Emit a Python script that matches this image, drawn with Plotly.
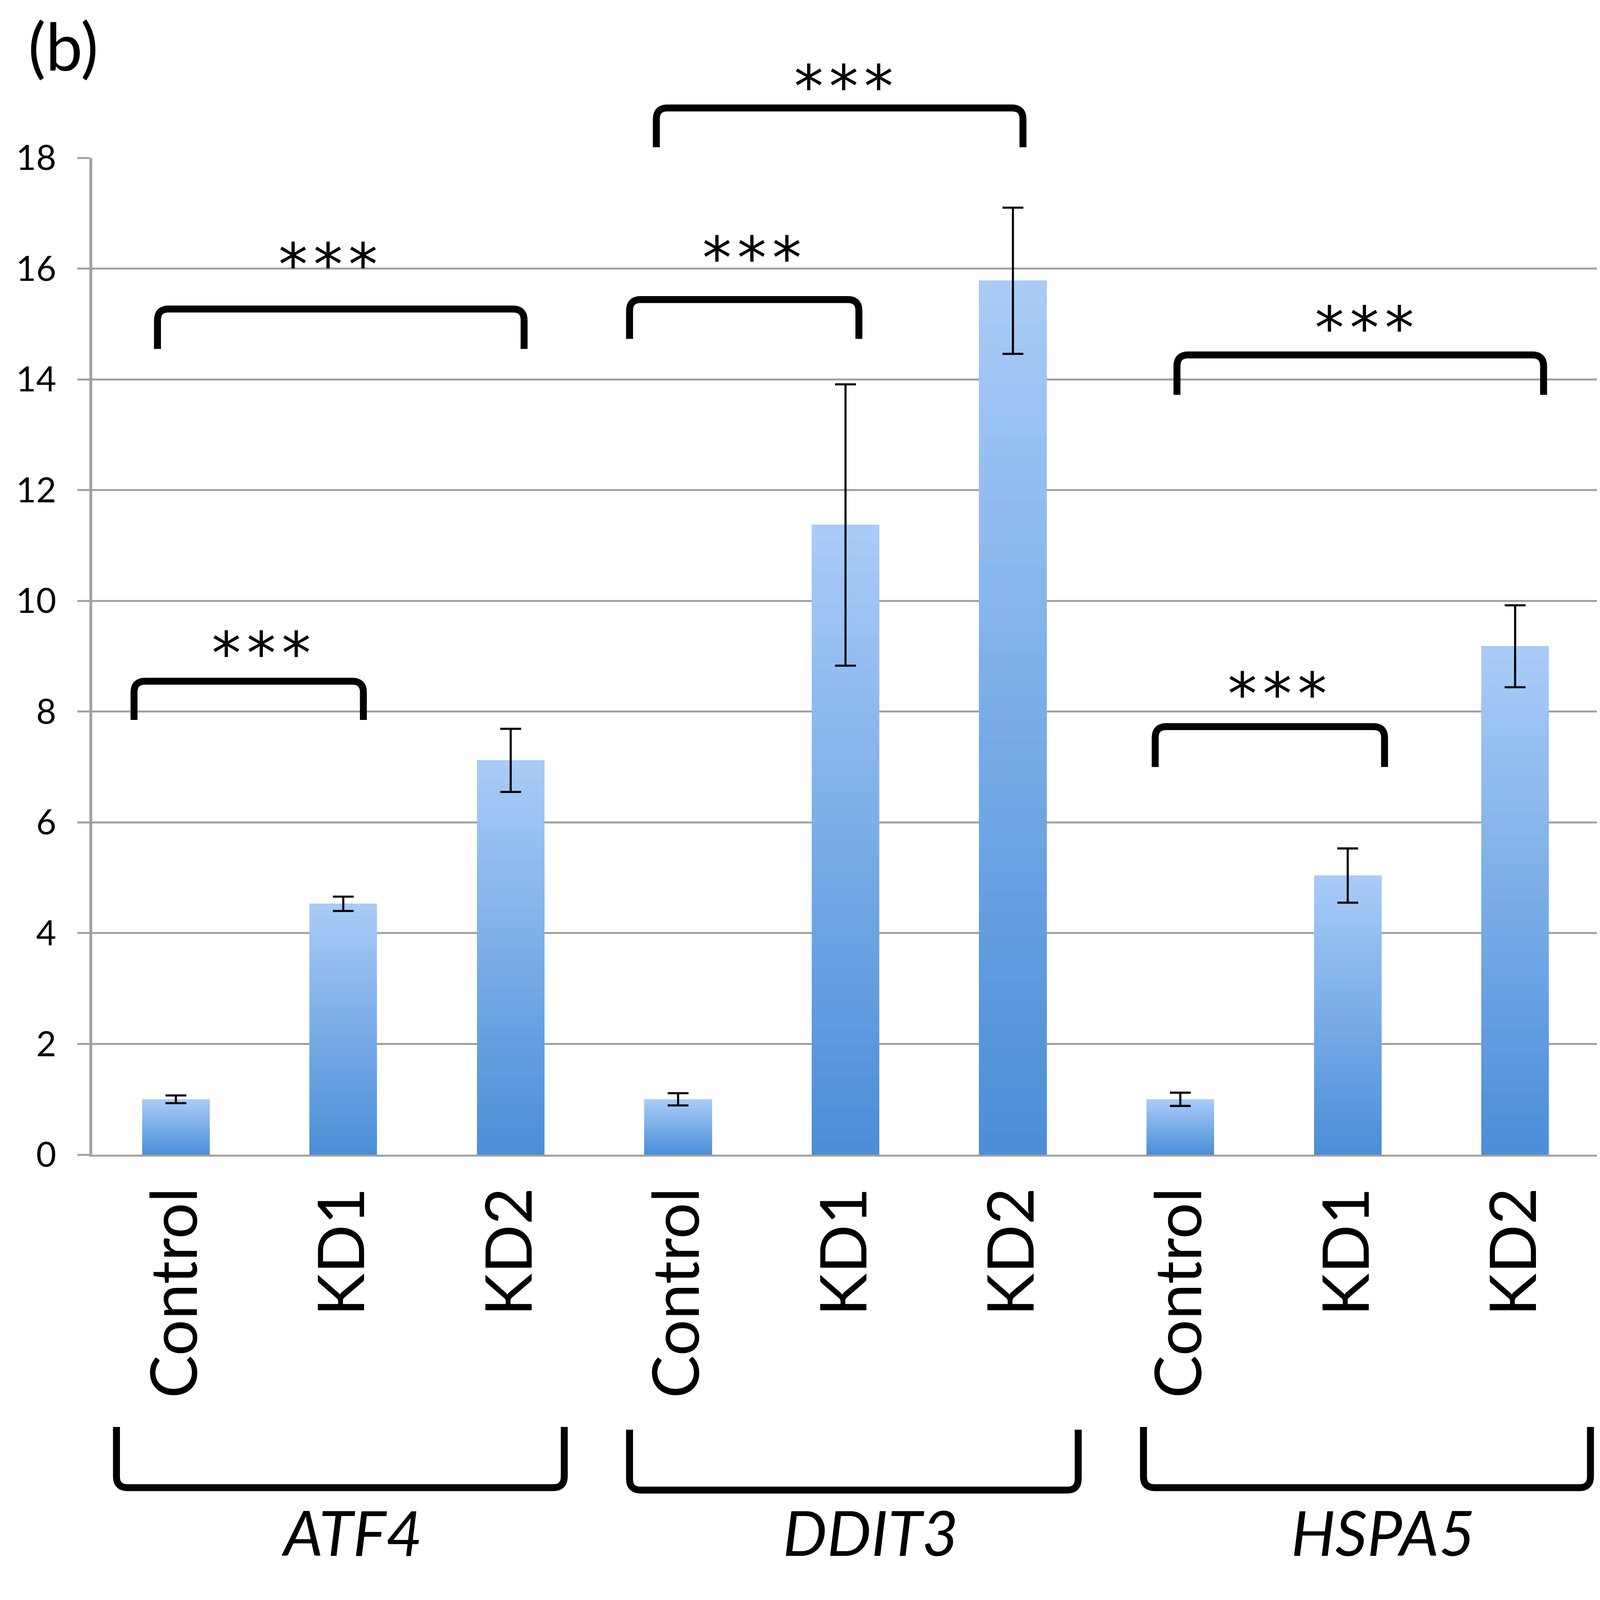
import plotly.graph_objects as go

# ---------------- data ----------------
categories = ["Control", "KD1", "KD2", "Control", "KD1", "KD2", "Control", "KD1", "KD2"]
genes = ["ATF4", "DDIT3", "HSPA5"]
values = [1.00, 4.53, 7.12, 1.00, 11.37, 15.78, 1.00, 5.04, 9.18]
errors = [0.07, 0.13, 0.57, 0.11, 2.54, 1.32, 0.12, 0.49, 0.74]
y_ticks = [0, 2, 4, 6, 8, 10, 12, 14, 16, 18]
sig_labels = ["***", "***", "***", "***", "***", "***"]

# significance bracket placement (category index / value units)
sig_left = [-0.25, -0.11, 2.71, 2.87, 5.85, 5.98]
sig_right = [1.12, 2.08, 4.08, 5.06, 7.22, 8.17]
sig_top = [8.55, 15.27, 15.44, 18.90, 7.73, 14.44]
sig_leg = [7.85, 14.55, 14.73, 18.19, 7.00, 13.72]
sig_star_x = [0.51, 0.91, 3.44, 3.99, 6.58, 7.10]
sig_star_y = [9.26, 16.28, 16.40, 19.50, 8.53, 15.14]

# gene group brackets (category index) and label centres
grp_left = [-0.355, 2.71, 5.78]
grp_right = [2.32, 5.39, 8.45]
grp_label_x = [1.05, 4.15, 7.21]

# ---------------- geometry (reference pixels, then scaled) ----------------
RW, RH = 4600, 4528
RML, RMR, RMT, RMB = 257, 5, 445, 1212
K = 1 / 1.125  # page is photographed at 1.125 device pixels per CSS pixel


def s(v):
    return v * K


def si(v):
    return int(round(v * K))


W, H = si(RW), si(RH)
ML, MR, MT, MB = si(RML), si(RMR), si(RMT), si(RMB)
RPW, RPH = RW - RML - RMR, RH - RMT - RMB
X0, X1 = -0.5, len(categories) - 0.5
Y0, Y1 = 0, 18
RAXIS = RH - RMB  # reference pixel row of y=0


def xp(i):
    return (i - X0) / (X1 - X0)


def yp(v):
    return (v - Y0) / (Y1 - Y0)


def ypx(py):
    return (RAXIS - py) / RPH


def xpx(px):
    return (px - RML) / RPW


FONT = "Lato"
STAR_FONT = "DejaVu Sans"
xs = list(range(len(categories)))

fig = go.Figure()

# gradient bars: stacked slices of each bar, light at top, darker at bottom
N = 40
c_bot = (76, 142, 216)
c_top = (168, 203, 247)
for k in range(N):
    t = k / (N - 1)
    col = "rgb(%d,%d,%d)" % tuple(round(c_bot[j] + (c_top[j] - c_bot[j]) * t) for j in range(3))
    fig.add_trace(go.Bar(
        x=xs, y=[v / N for v in values],
        marker=dict(color=col, line=dict(color=col, width=1)),
        showlegend=False, hoverinfo="skip",
    ))

# error bars
fig.add_trace(go.Scatter(
    x=xs, y=values, mode="markers",
    marker=dict(size=1, color="rgba(0,0,0,0)"),
    error_y=dict(type="data", array=errors, visible=True, color="black",
                 thickness=s(6), width=s(30)),
    showlegend=False, hoverinfo="skip",
))

shapes = []
annotations = []
LW = s(20)
RX, RY = 32 / RPW, 32 / RPH

# significance brackets (open downward)
for l, r, top, leg, sx, sy, lab in zip(sig_left, sig_right, sig_top, sig_leg,
                                       sig_star_x, sig_star_y, sig_labels):
    xl, xr, yt, yl = xp(l), xp(r), yp(top), yp(leg)
    path = (f"M {xl},{yl} L {xl},{yt - RY} Q {xl},{yt} {xl + RX},{yt} "
            f"L {xr - RX},{yt} Q {xr},{yt} {xr},{yt - RY} L {xr},{yl}")
    shapes.append(dict(type="path", path=path, xref="paper", yref="paper",
                       line=dict(color="black", width=LW), layer="above"))
    annotations.append(dict(text="\u200a".join(lab),
                            x=xp(sx), y=yp(sy), xref="paper", yref="paper",
                            xanchor="center", yanchor="middle", yshift=-s(34),
                            showarrow=False,
                            font=dict(family=STAR_FONT, size=s(168), color="black")))

# gene group brackets (open upward)
g_top = [4100, 4108, 4100]
g_bot = [4275, 4282, 4275]
for l, r, gt, gb in zip(grp_left, grp_right, g_top, g_bot):
    xl, xr = xp(l), xp(r)
    yt, yb = ypx(gt), ypx(gb)
    path = (f"M {xl},{yt} L {xl},{yb + RY} Q {xl},{yb} {xl + RX},{yb} "
            f"L {xr - RX},{yb} Q {xr},{yb} {xr},{yb + RY} L {xr},{yt}")
    shapes.append(dict(type="path", path=path, xref="paper", yref="paper",
                       line=dict(color="black", width=LW), layer="above"))

for g, gx in zip(genes, grp_label_x):
    annotations.append(dict(text=f"<i>{g}</i>", x=xp(gx), y=ypx(4402),
                            xref="paper", yref="paper",
                            xanchor="center", yanchor="middle", showarrow=False,
                            font=dict(family=FONT, size=s(180), color="black")))

# panel label
annotations.append(dict(text="(b)", x=xpx(70), y=ypx(4), xref="paper", yref="paper",
                        xanchor="left", yanchor="top", showarrow=False,
                        font=dict(family=FONT, size=s(190), color="black")))

GRID = "#a0a0a0"
fig.update_layout(
    width=W, height=H,
    margin=dict(l=ML, r=MR, t=MT, b=MB, pad=0),
    paper_bgcolor="white", plot_bgcolor="white",
    barmode="stack", bargap=0.598,
    shapes=shapes, annotations=annotations,
    font=dict(family=FONT, color="black"),
    xaxis=dict(range=[X0, X1], tickmode="array", tickvals=xs, ticktext=categories,
               tickangle=-90, tickfont=dict(family=FONT, size=s(185), color="black"),
               showgrid=False, zeroline=False, showline=True, linecolor=GRID,
               linewidth=s(6), ticks="", ticklabelstandoff=si(15), fixedrange=True),
    yaxis=dict(range=[Y0, Y1], tickmode="array", tickvals=y_ticks,
               tickfont=dict(family=FONT, size=s(100), color="black"),
               showgrid=True, gridcolor=GRID, gridwidth=s(6), zeroline=False,
               showline=True, linecolor=GRID, linewidth=s(8),
               ticks="outside", ticklen=si(35), tickwidth=s(6), tickcolor=GRID,
               ticklabelstandoff=si(40), fixedrange=True),
)

fig.write_html("out.html")
